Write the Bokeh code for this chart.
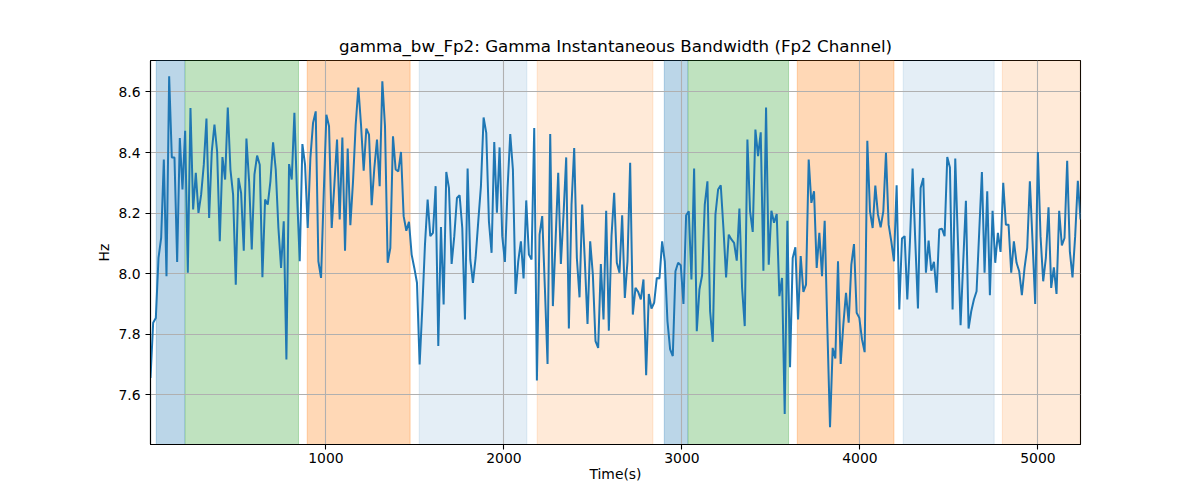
import numpy as np
from bokeh.plotting import figure
from bokeh.models import BoxAnnotation, FixedTicker, Range1d, PrintfTickFormatter
from bokeh.embed import file_html
from bokeh.resources import INLINE

# ---------------- data ----------------
bandwidth_hz = [
    7.656, 7.838, 7.854, 8.052, 8.118, 8.377, 7.992, 8.652, 8.384, 8.384,
    8.039, 8.448, 8.278, 8.472, 8.003, 8.547, 8.212, 8.333, 8.201, 8.261,
    8.360, 8.512, 8.184, 8.404, 8.492, 8.404, 8.107, 8.385, 8.311, 8.549,
    8.344, 8.261, 7.964, 8.316, 8.267, 8.076, 8.446, 8.305, 8.080, 8.327,
    8.390, 8.360, 7.988, 8.245, 8.228, 8.305, 8.434, 8.344, 8.151, 8.019,
    8.173, 7.717, 8.362, 8.311, 8.531, 8.261, 8.041, 8.428, 8.360, 8.151,
    8.382,
    8.498, 8.536, 8.041, 7.986, 8.261, 8.525, 8.487, 8.151, 8.294, 8.443,
    8.179, 8.450, 8.076, 8.413, 8.160, 8.305, 8.492, 8.615, 8.492, 8.340,
    8.479, 8.459, 8.226, 8.349, 8.443, 8.289, 8.635, 8.487, 8.036, 8.085,
    8.454, 8.344, 8.338, 8.402, 8.190, 8.142, 8.171, 8.063, 8.019, 7.970,
    7.700, 7.887, 8.096, 8.245, 8.124, 8.135, 8.289, 7.761, 8.154, 7.898,
    8.336, 8.283, 8.032, 8.124, 8.250, 8.259, 8.151, 7.849,
    8.347, 8.047, 7.970, 8.052, 8.173, 8.289, 8.516, 8.465, 8.173, 8.069,
    8.435, 8.201, 8.417, 8.124, 8.039, 8.283, 8.461, 8.344, 7.933, 8.041,
    8.107, 7.984, 8.242, 8.063, 8.047, 8.481, 7.647, 8.129, 8.190, 7.953,
    7.702, 8.461, 7.893, 8.107, 8.333, 8.032, 8.195, 8.384, 7.819, 8.228,
    8.415, 8.052, 7.922, 8.228, 8.041, 7.834, 8.107, 7.997, 7.777, 7.755,
    8.032, 7.849, 8.208, 7.812, 8.124, 8.267, 8.036, 8.003,
    8.193, 7.920, 8.041, 8.366, 7.865, 7.953, 7.940, 7.915, 7.981, 7.665,
    7.933, 7.885, 7.904, 7.986, 7.984, 8.107, 8.041, 7.843, 7.750, 7.728,
    8.008, 8.036, 8.028, 7.900, 8.193, 8.206, 7.981, 8.347, 7.810, 7.948,
    7.995, 8.228, 8.305, 7.876, 7.775, 8.195, 8.278, 8.292, 8.151, 7.988,
    8.129, 8.113, 8.102, 8.043, 8.215, 7.953, 7.827, 8.443, 8.206, 8.138,
    8.476, 8.388, 8.467, 8.010, 8.549, 8.030, 8.208, 8.168,
    8.197, 7.926, 7.986, 7.537, 8.175, 7.691, 8.052, 8.087, 7.849, 8.058,
    7.940, 7.964, 8.377, 8.234, 8.272, 8.019, 8.135, 7.992, 8.175, 7.821,
    7.493, 7.755, 7.720, 8.041, 7.702, 7.832, 7.937, 7.838, 8.030, 8.098,
    7.871, 7.854, 7.783, 7.741, 8.439, 8.206, 8.151, 8.291, 8.195, 8.153,
    8.206, 8.399, 8.162, 8.107, 8.041, 8.292, 7.882, 8.116, 8.124, 7.915,
    8.107, 8.347, 8.107, 7.885, 8.283, 8.316, 8.003, 8.109,
    8.010, 8.039, 7.937, 8.146, 8.149, 8.124, 8.385, 8.351, 7.882, 8.380,
    8.107, 7.830, 8.041, 8.241, 7.819, 7.876, 7.915, 7.942, 8.140, 8.336,
    8.003, 8.272, 7.929, 8.208, 8.036, 8.135, 8.072, 8.300, 8.162, 8.162,
    8.003, 8.107, 8.036, 8.008, 7.929, 8.019, 8.085, 8.305, 8.107, 7.900,
    8.402, 8.124, 7.975, 8.052, 8.219, 7.953, 8.021, 7.933, 8.208, 8.093,
    8.118, 8.373, 8.074, 7.988, 8.124, 8.307, 8.179,
]
time_start_s = 14.6
time_end_s = 5239.0
time_s = np.linspace(time_start_s, time_end_s, len(bandwidth_hz))

region_start = [47, 210, 895, 1524, 2187, 2901, 3035, 3648, 4243, 4800]
region_end = [206, 846, 1473, 2129, 2837, 3032, 3599, 4191, 4754, 5300]
region_color = ["#1f77b4", "#2ca02c", "#ff7f0e", "#1f77b4", "#ff7f0e",
                "#1f77b4", "#2ca02c", "#ff7f0e", "#1f77b4", "#ff7f0e"]
region_alpha = [0.3, 0.3, 0.3, 0.12, 0.16, 0.3, 0.3, 0.3, 0.12, 0.16]

x_ticks = [1000, 2000, 3000, 4000, 5000]
y_ticks = [7.6, 7.8, 8.0, 8.2, 8.4, 8.6]
y_min, y_max = 7.436, 8.704

FONT = "DejaVu Sans"

p = figure(width=1184, height=484, output_backend="svg", toolbar_location=None,
           x_range=Range1d(time_s[0], time_s[-1]), y_range=Range1d(y_min, y_max),
           min_border_left=150, min_border_right=104, min_border_top=60,
           min_border_bottom=38)
p.background_fill_color = "white"
p.border_fill_color = "white"
p.outline_line_color = "black"
p.outline_line_width = 1.1

for s, e, c, a in zip(region_start, region_end, region_color, region_alpha):
    box = BoxAnnotation(left=s, right=e, fill_color=c, fill_alpha=a,
                        line_color=c, line_alpha=a, line_width=1, level="image")
    p.add_layout(box)

p.line(time_s, bandwidth_hz, line_color="#1f77b4", line_width=2.0)

p.title.text = "gamma_bw_Fp2: Gamma Instantaneous Bandwidth (Fp2 Channel)"
p.title.align = "center"
p.title.text_font = FONT
p.title.text_font_size = "16.7px"
p.title.text_font_style = "normal"
p.title.text_color = "black"

p.xaxis.ticker = FixedTicker(ticks=x_ticks)
p.yaxis.ticker = FixedTicker(ticks=y_ticks)
p.yaxis.formatter = PrintfTickFormatter(format="%.1f")
p.xaxis.axis_label = "Time(s)"
p.yaxis.axis_label = "Hz"
for ax in (p.xaxis[0], p.yaxis[0]):
    ax.axis_label_text_font = FONT
    ax.axis_label_text_font_size = "13.9px"
    ax.axis_label_text_font_style = "normal"
    ax.axis_label_text_color = "black"
    ax.major_label_text_font = FONT
    ax.major_label_text_font_size = "13.9px"
    ax.major_label_text_color = "black"
    ax.major_tick_out = 5
    ax.major_tick_in = 0
    ax.major_tick_line_width = 1.1
    ax.minor_tick_line_color = None
    ax.axis_line_width = 1.1
    ax.axis_line_color = "black"
p.xaxis.major_label_standoff = 3
p.xaxis.axis_label_standoff = 0
p.yaxis.major_label_standoff = 5
p.yaxis.axis_label_standoff = 3

p.grid.grid_line_color = "#b0b0b0"
p.grid.grid_line_width = 1.1

open("out.html", "w").write(file_html(p, INLINE))
